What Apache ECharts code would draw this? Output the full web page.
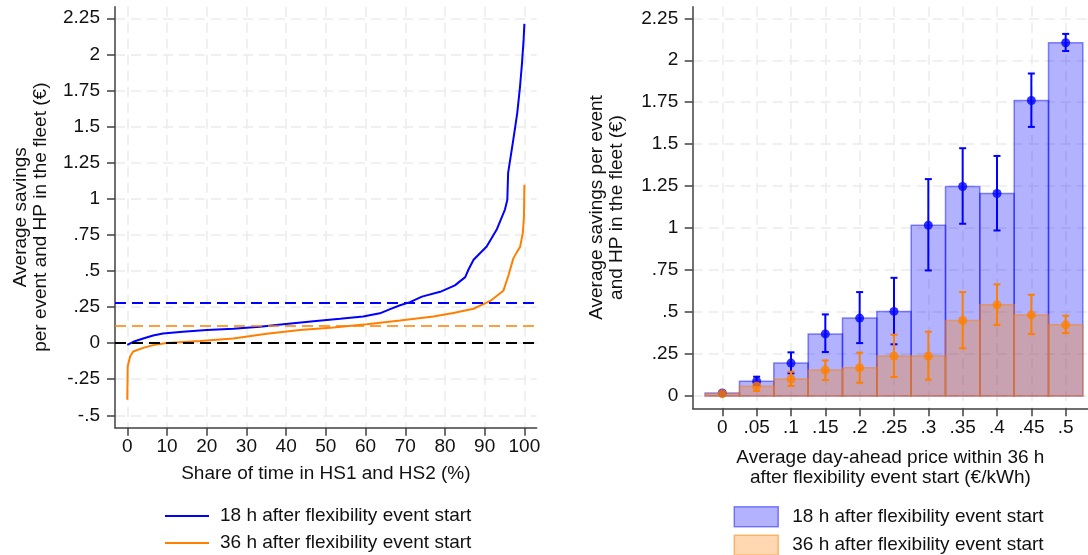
<!DOCTYPE html>
<html>
<head>
<meta charset="utf-8">
<script src="https://cdn.jsdelivr.net/npm/echarts@6/dist/echarts.min.js"></script>
<style>html,body{margin:0;padding:0;background:#fff}#c{width:1088px;height:555px}</style>
</head>
<body>
<div id="c"></div>
<script>
// ---------- Data ----------
// Left panel: sorted savings vs share of time in HS1/HS2 (%)
const curve18 = [[0,-0.012],[1.5,0.009],[4,0.032],[6.5,0.053],[9,0.067],[14,0.078],[20,0.09],[26.7,0.099],[33.4,0.113],[39.3,0.131],[46.9,0.152],[53.6,0.168],[59.4,0.184],[63.6,0.206],[66.2,0.235],[68.7,0.262],[71.2,0.284],[74.2,0.322],[78.8,0.355],[82.5,0.40],[85.1,0.457],[85.9,0.508],[87.2,0.577],[90.5,0.669],[93.0,0.785],[95.1,0.925],[95.7,0.992],[95.9,1.177],[97.2,1.408],[98.2,1.593],[98.9,1.777],[99.4,1.939],[99.8,2.10],[100,2.211]];
const curve36 = [[0,-0.393],[0.1,-0.162],[0.7,-0.093],[1.5,-0.058],[4,-0.033],[6.5,-0.014],[9.9,0.0],[18.3,0.014],[26.7,0.032],[35.1,0.064],[43.5,0.09],[51.9,0.108],[60.3,0.131],[68.7,0.157],[77.1,0.184],[82.1,0.208],[87.2,0.238],[91.4,0.292],[94.7,0.362],[96.0,0.47],[97.2,0.585],[98.1,0.63],[98.9,0.665],[99.6,0.762],[99.9,0.88],[100,1.096]];
const ref18 = 0.281;   // mean, 18 h
const ref36 = 0.122;   // mean, 36 h
const shareTicks = [0,10,20,30,40,50,60,70,80,90,100];
const savingsTicksL = [-0.5,-0.25,0,0.25,0.5,0.75,1,1.25,1.5,1.75,2,2.25];

// Right panel: savings by average day-ahead price bin
const priceBins = [0,0.05,0.1,0.15,0.2,0.25,0.3,0.35,0.4,0.45,0.5];
const binHalf = 0.025;
const mean18 = [0.018,0.088,0.196,0.370,0.464,0.504,1.017,1.248,1.206,1.760,2.104];
const lo18   = [0.010,0.065,0.135,0.262,0.315,0.308,0.748,1.026,0.986,1.603,2.055];
const hi18   = [0.028,0.115,0.260,0.486,0.619,0.704,1.292,1.476,1.430,1.921,2.157];
const mean36 = [0.014,0.058,0.101,0.155,0.168,0.238,0.238,0.450,0.543,0.483,0.424];
const lo36   = [0.008,0.030,0.060,0.095,0.079,0.113,0.097,0.284,0.423,0.369,0.375];
const hi36   = [0.022,0.083,0.145,0.212,0.258,0.365,0.383,0.619,0.665,0.603,0.478];
const savingsTicksR = [0,0.25,0.5,0.75,1,1.25,1.5,1.75,2,2.25];

const legendLabels = {
  l18: '18 h after flexibility event start',
  l36: '36 h after flexibility event start',
  b18: '18 h after flexibility event start',
  b36: '36 h after flexibility event start'
};

// ---------- Styles ----------
const BLUE = '#0000ff';
const ORANGE = '#ff7f00';
const FONT = '"Liberation Sans", Arial, Helvetica, sans-serif';
const FS = 19;
const AXIS_COLOR = '#404040';
const GRID_LINE = {show: true, lineStyle: {color: '#ebebeb', width: 1.5, type: [10, 6]}};

function fmt(v) {
  return String(v).replace(/^0\./, '.').replace(/^-0\./, '-.');
}

function axisCommon(ticks) {
  return {
    axisLine: {show: true, onZero: false, lineStyle: {color: AXIS_COLOR, width: 1.5}},
    axisTick: {show: true, customValues: ticks, length: 8, lineStyle: {color: AXIS_COLOR, width: 1.5}},
    axisLabel: {customValues: ticks, formatter: fmt, fontSize: FS, color: '#111', fontFamily: FONT},
    splitLine: GRID_LINE,
    nameTextStyle: {fontSize: FS, color: '#111', fontFamily: FONT, lineHeight: 20}
  };
}

function merge(a, b) {
  const o = Object.assign({}, a, b);
  ['axisLine','axisTick','axisLabel','nameTextStyle'].forEach(k => {
    if (a[k] && b[k]) o[k] = Object.assign({}, a[k], b[k]);
  });
  return o;
}

function barRender(fill, stroke) {
  return function (params, api) {
    const x = api.value(0), v = api.value(1);
    const p1 = api.coord([x - binHalf, v]);
    const p2 = api.coord([x + binHalf, 0]);
    return {
      type: 'rect',
      shape: {x: p1[0], y: p1[1], width: p2[0] - p1[0], height: p2[1] - p1[1]},
      style: {fill: fill, stroke: stroke, lineWidth: 1.5}
    };
  };
}

function errRender(color) {
  return function (params, api) {
    const x = api.value(0);
    const lo = api.coord([x, api.value(1)]);
    const hi = api.coord([x, api.value(2)]);
    const cw = 3.5;
    const st = {stroke: color, lineWidth: 2};
    return {
      type: 'group',
      children: [
        {type: 'line', shape: {x1: lo[0], y1: lo[1], x2: hi[0], y2: hi[1]}, style: st},
        {type: 'line', shape: {x1: lo[0] - cw, y1: lo[1], x2: lo[0] + cw, y2: lo[1]}, style: st},
        {type: 'line', shape: {x1: hi[0] - cw, y1: hi[1], x2: hi[0] + cw, y2: hi[1]}, style: st}
      ]
    };
  };
}

const bars18 = priceBins.map((x, i) => [x, mean18[i]]);
const bars36 = priceBins.map((x, i) => [x, mean36[i]]);
const err18 = priceBins.map((x, i) => [x, lo18[i], hi18[i]]);
const err36 = priceBins.map((x, i) => [x, lo36[i], hi36[i]]);

const BLUE_FILL = 'rgba(0,0,255,0.3)';
const BLUE_EDGE = 'rgba(0,0,255,0.45)';
const OR_FILL = 'rgba(255,127,0,0.3)';
const OR_EDGE = 'rgba(255,127,0,0.5)';

const option = {
  animation: false,
  backgroundColor: '#fff',
  textStyle: {fontFamily: FONT},
  grid: [
    {left: 115, top: 6.7, width: 421.7, height: 421},
    {left: 692.7, top: 6.7, width: 395.3, height: 401.6}
  ],
  xAxis: [
    merge(axisCommon(shareTicks), {
      type: 'value', gridIndex: 0, min: -3.1, max: 103.1,
      axisLabel: {margin: 10},
      name: 'Share of time in HS1 and HS2 (%)', nameLocation: 'middle', nameGap: 36
    }),
    merge(axisCommon(priceBins), {
      type: 'value', gridIndex: 1, min: -0.0431, max: 0.5325,
      axisLabel: {margin: 10},
      name: 'Average day-ahead price within 36 h\nafter flexibility event start (€/kWh)',
      nameLocation: 'middle', nameGap: 39
    })
  ],
  yAxis: [
    merge(axisCommon(savingsTicksL), {
      type: 'value', gridIndex: 0, min: -0.586, max: 2.33,
      axisLabel: {margin: 15},
      name: 'Average savings\nper event and HP in the fleet (€)',
      nameLocation: 'middle', nameGap: 64
    }),
    merge(axisCommon(savingsTicksR), {
      type: 'value', gridIndex: 1, min: -0.0733, max: 2.319,
      axisLabel: {margin: 14.5},
      name: 'Average savings per event\nand HP in the fleet (€)',
      nameLocation: 'middle', nameGap: 66
    })
  ],
  legend: [
    {
      orient: 'vertical', left: 165, top: 506, height: 80, padding: 0,
      itemWidth: 44, itemHeight: 2, itemGap: 7,
      icon: 'rect', selectedMode: false,
      data: [
        {name: 'l18', itemStyle: {color: BLUE, borderWidth: 0}},
        {name: 'l36', itemStyle: {color: ORANGE, borderWidth: 0}}
      ],
      formatter: n => legendLabels[n],
      textStyle: {fontSize: FS, color: '#111', fontFamily: FONT, lineHeight: 20, padding: [0, 0, 0, 6]}
    },
    {
      orient: 'vertical', left: 733.5, top: 506, height: 80, padding: 0,
      itemWidth: 44, itemHeight: 20, itemGap: 7,
      icon: 'rect', selectedMode: false,
      data: [
        {name: 'b18', itemStyle: {color: BLUE_FILL, borderColor: BLUE_EDGE, borderWidth: 1.5}},
        {name: 'b36', itemStyle: {color: OR_FILL, borderColor: OR_EDGE, borderWidth: 1.5}}
      ],
      formatter: n => legendLabels[n],
      textStyle: {fontSize: FS, color: '#111', fontFamily: FONT, lineHeight: 20, padding: [0, 0, 0, 9]}
    }
  ],
  series: [
    {
      name: 'l36', type: 'line', xAxisIndex: 0, yAxisIndex: 0, data: curve36,
      showSymbol: false, symbol: 'none', lineStyle: {color: ORANGE, width: 2}, itemStyle: {color: ORANGE},
      markLine: {
        silent: true, symbol: ['none', 'none'], label: {show: false},
        lineStyle: {width: 2, type: [11, 6]},
        data: [
          {yAxis: ref18, lineStyle: {color: BLUE, width: 2, type: [11, 6]}},
          {yAxis: ref36, lineStyle: {color: ORANGE, width: 1.5, type: [11, 6]}},
          {yAxis: 0, lineStyle: {color: '#000', width: 2, type: [11, 6]}}
        ]
      }
    },
    {
      name: 'l18', type: 'line', xAxisIndex: 0, yAxisIndex: 0, data: curve18,
      showSymbol: false, symbol: 'none', lineStyle: {color: BLUE, width: 2}, itemStyle: {color: BLUE}
    },
    {
      name: 'b18', type: 'custom', xAxisIndex: 1, yAxisIndex: 1, data: bars18,
      encode: {x: 0, y: 1}, itemStyle: {color: BLUE_FILL},
      renderItem: barRender(BLUE_FILL, BLUE_EDGE)
    },
    {
      name: 'b36', type: 'custom', xAxisIndex: 1, yAxisIndex: 1, data: bars36,
      encode: {x: 0, y: 1}, itemStyle: {color: OR_FILL},
      renderItem: barRender(OR_FILL, OR_EDGE)
    },
    {
      name: 'ci18', type: 'custom', xAxisIndex: 1, yAxisIndex: 1, data: err18,
      encode: {x: 0, y: [1, 2]}, renderItem: errRender(BLUE)
    },
    {
      name: 'pt18', type: 'scatter', xAxisIndex: 1, yAxisIndex: 1, data: bars18,
      symbolSize: 9, itemStyle: {color: BLUE}
    },
    {
      name: 'ci36', type: 'custom', xAxisIndex: 1, yAxisIndex: 1, data: err36,
      encode: {x: 0, y: [1, 2]}, renderItem: errRender(ORANGE)
    },
    {
      name: 'pt36', type: 'scatter', xAxisIndex: 1, yAxisIndex: 1, data: bars36,
      symbolSize: 9, itemStyle: {color: ORANGE}
    }
  ]
};

const chart = echarts.init(document.getElementById('c'), null, {renderer: 'canvas'});
chart.setOption(option);
</script>
</body>
</html>
